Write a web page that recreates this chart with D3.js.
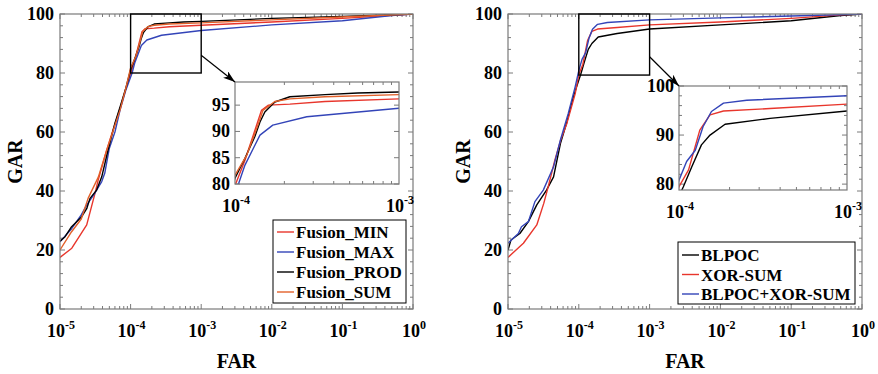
<!DOCTYPE html>
<html><head><meta charset="utf-8">
<script src="https://cdn.jsdelivr.net/npm/d3@7"></script>
<style>
html,body{margin:0;padding:0;background:#fff;}
svg{display:block;font-family:"Liberation Serif","Times New Roman",serif;font-weight:bold;}
</style></head>
<body><svg id="c" width="878" height="374"></svg>
<script>
// ---------- DATA ----------
const xTickExps = [-5, -4, -3, -2, -1, 0];
const yTicksMain = [0, 20, 40, 60, 80, 100];
const leftInsetYTicks = [80, 85, 90, 95];
const rightInsetYTicks = [80, 90, 100];
const insetXTickExps = [-4, -3];

// Left panel series
const minFar  = [1e-5,1.47e-5,2.39e-5,3.13e-5,3.5e-5,4.6e-5,5.7e-5,7.1e-5,8.5e-5,1.02e-4,1.15e-4,1.3e-4,1.45e-4,1.6e-4,2.16e-4,3.54e-4,1e-3,1e-2,1e-1,1];
const minGar  = [17.5,20.6,28.5,39.2,44,54,61,68,74.5,80.4,84.5,89.5,94,95,95.2,95.7,96.2,97.3,98.5,100];
const maxFar  = [1e-5,1.47e-5,2.0e-5,2.4e-5,3.1e-5,3.9e-5,4.3e-5,5.0e-5,6.0e-5,7.1e-5,8.5e-5,1.05e-4,1.15e-4,1.42e-4,1.7e-4,2.74e-4,1e-3,1e-2,1e-1,0.5,1];
const maxGar  = [22.8,27.3,31.9,35.3,39.2,43.2,46,54.5,60,67.5,74,80,83.6,89.3,91.2,92.8,94.4,96.3,97.7,99.5,100];
const prodFar = [1e-5,1.18e-5,1.46e-5,2.03e-5,2.4e-5,2.66e-5,3.3e-5,3.9e-5,4.8e-5,6.0e-5,7.2e-5,8.6e-5,1e-4,1.15e-4,1.32e-4,1.42e-4,1.52e-4,1.75e-4,2.16e-4,3.54e-4,5.6e-4,1e-3,1e-2,1e-1,1];
const prodGar = [23,24.5,27.9,31.3,34.1,37.5,40.3,44.8,53.9,63,69,75,81.1,84.9,89,91.8,93.7,95.6,96.6,97.0,97.3,97.5,98.5,99.2,100];
const sumFar  = [1e-5,1.46e-5,2.0e-5,2.5e-5,3.5e-5,4.6e-5,5.7e-5,7.1e-5,8.5e-5,1e-4,1.18e-4,1.38e-4,1.48e-4,1.75e-4,2.16e-4,3.54e-4,1e-3,1e-2,1e-1,1];
const sumGar  = [20,26.2,30.5,37.5,44.8,53.9,60.7,67.5,74.5,81.7,85.5,91.2,94,95.7,96.2,96.6,97.0,98,99,100];
const leftNames = ["Fusion_MIN","Fusion_MAX","Fusion_PROD","Fusion_SUM"];

// Right panel series
const blpocFar = [1e-5,1.1e-5,1.47e-5,1.94e-5,2.55e-5,3.5e-5,4.4e-5,5.5e-5,6.8e-5,8.4e-5,1.0e-4,1.06e-4,1.19e-4,1.36e-4,1.53e-4,1.88e-4,3.48e-4,1e-3,1e-2,1e-1,0.5,1];
const blpocGar = [20,23.4,25.6,29.6,35.3,40.3,44.8,56.1,63.5,72,77.6,79.4,83.5,88,90,92.2,93.4,94.9,96.3,97.7,99.5,100];
const xorFar   = [1e-5,1.65e-5,2.55e-5,3.2e-5,3.7e-5,4.6e-5,5.5e-5,6.8e-5,8.9e-5,1e-4,1.14e-4,1.33e-4,1.53e-4,1.84e-4,3.48e-4,1e-3,1e-2,1e-1,0.5,1];
const xorGar   = [17.5,22.3,28.5,35.8,41.5,50.5,57,63,73,79.5,82.9,91,94.1,94.9,95.4,96.3,97.3,98.5,99.7,100];
const bothFar  = [1e-5,1.4e-5,1.55e-5,1.94e-5,2.4e-5,3.15e-5,4.4e-5,5.5e-5,7.1e-5,8.9e-5,1e-4,1.11e-4,1.25e-4,1.39e-4,1.56e-4,1.84e-4,2.53e-4,1e-3,1e-2,1e-1,1];
const bothGar  = [22.3,25.6,27.9,29.6,36.4,40.3,48.2,57.3,66.3,75.4,80.8,84.6,86.9,91.7,94.8,96.5,97.1,98,98.7,99.3,100];
const rightNames = ["BLPOC","XOR-SUM","BLPOC+XOR-SUM"];

// ---------- STYLE ----------
const RED = "#e8362c", BLUE = "#3344b8", BLACK = "#000", ORANGE = "#e2602a";
const AXIS = "#7a7a7a";

const svg = d3.select("#c");
const defs = svg.append("defs");
defs.append("marker").attr("id","arr").attr("viewBox","0 0 12 8").attr("refX",12).attr("refY",4)
  .attr("markerWidth",12).attr("markerHeight",8).attr("markerUnits","userSpaceOnUse").attr("orient","auto")
  .append("path").attr("d","M0,0 L12,4 L0,8 L3,4 Z").attr("fill","#000");

function zip(f,g){return f.map((v,i)=>({x:v,y:g[i]}));}

function powLabel(sel, exp, size, supSize){
  sel.append("tspan").text("10").attr("font-size",size);
  sel.append("tspan").text(String(exp).replace("-","-")).attr("font-size",supSize).attr("dy",-size*0.42);
}

function drawPanel(cfg){
  const g = svg.append("g");
  const x = d3.scaleLog().domain([1e-5,1]).range([cfg.x0,cfg.x1]);
  const y = d3.scaleLinear().domain([0,100]).range([cfg.y1,cfg.y0]);
  const id = cfg.id;
  defs.append("clipPath").attr("id","cm"+id).append("rect")
    .attr("x",cfg.x0).attr("y",cfg.y0).attr("width",cfg.x1-cfg.x0).attr("height",cfg.y1-cfg.y0);

  // ticks inward, all sides
  const minorX = [];
  for(let e=-5;e<0;e++) for(let m=2;m<=9;m++) minorX.push(m*Math.pow(10,e));
  const tk = g.append("g").attr("stroke",AXIS).attr("stroke-width",1);
  minorX.forEach(v=>{
    const px = x(v);
    tk.append("line").attr("x1",px).attr("x2",px).attr("y1",cfg.y1).attr("y2",cfg.y1-3);
    tk.append("line").attr("x1",px).attr("x2",px).attr("y1",cfg.y0).attr("y2",cfg.y0+3);
  });
  xTickExps.forEach(e=>{
    const px = x(Math.pow(10,e));
    tk.append("line").attr("x1",px).attr("x2",px).attr("y1",cfg.y1).attr("y2",cfg.y1-5);
    tk.append("line").attr("x1",px).attr("x2",px).attr("y1",cfg.y0).attr("y2",cfg.y0+5);
  });
  d3.range(0,101,4).forEach(v=>{
    const py = y(v); const L = (v%20===0)?5:3;
    tk.append("line").attr("x1",cfg.x0).attr("x2",cfg.x0+L).attr("y1",py).attr("y2",py);
    tk.append("line").attr("x1",cfg.x1).attr("x2",cfg.x1-L).attr("y1",py).attr("y2",py);
  });

  // series
  const line = d3.line().x(d=>x(d.x)).y(d=>y(d.y));
  const sg = g.append("g").attr("clip-path","url(#cm"+id+")");
  cfg.series.forEach(s=>{
    sg.append("path").datum(zip(s.far,s.gar)).attr("d",line).attr("fill","none")
      .attr("stroke",s.color).attr("stroke-width",1.4).attr("stroke-linejoin","round");
  });

  // box
  g.append("rect").attr("x",cfg.x0).attr("y",cfg.y0).attr("width",cfg.x1-cfg.x0).attr("height",cfg.y1-cfg.y0)
    .attr("fill","none").attr("stroke",AXIS).attr("stroke-width",1.2);

  // tick labels
  yTicksMain.forEach(v=>{
    g.append("text").attr("x",cfg.x0-6).attr("y",y(v)+6).attr("text-anchor","end")
      .attr("font-size",18).text(v);
  });
  xTickExps.forEach(e=>{
    const t = g.append("text").attr("x",x(Math.pow(10,e))+1).attr("y",cfg.y1+28).attr("text-anchor","middle");
    powLabel(t,e,18,12);
  });
  g.append("text").attr("transform",`translate(${cfg.gx},${(cfg.y0+cfg.y1)/2}) rotate(-90)`)
    .attr("text-anchor","middle").attr("font-size",20).text("GAR");
  g.append("text").attr("x",(cfg.x0+cfg.x1)/2).attr("y",368).attr("text-anchor","middle")
    .attr("font-size",20).text("FAR");

  // zoom rectangle
  g.append("rect").attr("x",x(1e-4)).attr("y",y(100)).attr("width",x(1e-3)-x(1e-4))
    .attr("height",y(cfg.rectLow)-y(100)).attr("fill","none").attr("stroke","#000").attr("stroke-width",1.4);

  // inset
  const ix = d3.scaleLog().domain([1e-4,1e-3]).range([cfg.ix0,cfg.ix1]);
  const iy = d3.scaleLinear().domain(cfg.iyDomain).range([cfg.iy1,cfg.iy0]);
  defs.append("clipPath").attr("id","ci"+id).append("rect")
    .attr("x",cfg.ix0).attr("y",cfg.iy0).attr("width",cfg.ix1-cfg.ix0).attr("height",cfg.iy1-cfg.iy0);
  const ig = g.append("g");
  ig.append("rect").attr("x",cfg.ix0).attr("y",cfg.iy0).attr("width",cfg.ix1-cfg.ix0).attr("height",cfg.iy1-cfg.iy0)
    .attr("fill","#fff");
  const itk = ig.append("g").attr("stroke",AXIS).attr("stroke-width",1);
  for(let m=2;m<=9;m++){
    const px = ix(m*1e-4);
    itk.append("line").attr("x1",px).attr("x2",px).attr("y1",cfg.iy1).attr("y2",cfg.iy1-3);
    itk.append("line").attr("x1",px).attr("x2",px).attr("y1",cfg.iy0).attr("y2",cfg.iy0+3);
  }
  cfg.iyMinor.forEach(v=>{
    const py = iy(v);
    itk.append("line").attr("x1",cfg.ix0).attr("x2",cfg.ix0+3).attr("y1",py).attr("y2",py);
    itk.append("line").attr("x1",cfg.ix1).attr("x2",cfg.ix1-3).attr("y1",py).attr("y2",py);
  });
  cfg.iyTicks.forEach(v=>{
    const py = iy(v);
    itk.append("line").attr("x1",cfg.ix0).attr("x2",cfg.ix0+5).attr("y1",py).attr("y2",py);
    itk.append("line").attr("x1",cfg.ix1).attr("x2",cfg.ix1-5).attr("y1",py).attr("y2",py);
  });
  const iline = d3.line().x(d=>ix(d.x)).y(d=>iy(d.y));
  const isg = ig.append("g").attr("clip-path","url(#ci"+id+")");
  cfg.series.forEach(s=>{
    isg.append("path").datum(zip(s.far,s.gar)).attr("d",iline).attr("fill","none")
      .attr("stroke",s.color).attr("stroke-width",1.4).attr("stroke-linejoin","round");
  });
  ig.append("rect").attr("x",cfg.ix0).attr("y",cfg.iy0).attr("width",cfg.ix1-cfg.ix0).attr("height",cfg.iy1-cfg.iy0)
    .attr("fill","none").attr("stroke",AXIS).attr("stroke-width",1.2);
  cfg.iyTicks.forEach(v=>{
    ig.append("text").attr("x",cfg.ix0-5).attr("y",iy(v)+6).attr("text-anchor","end")
      .attr("font-size",18).text(v);
  });
  insetXTickExps.forEach(e=>{
    const t = ig.append("text").attr("x",ix(Math.pow(10,e))+1).attr("y",cfg.iy1+28).attr("text-anchor","middle");
    powLabel(t,e,18,12);
  });

  // arrow
  g.append("line").attr("x1",x(1e-3)).attr("y1",y(cfg.arrowFromY))
    .attr("x2",cfg.ix0).attr("y2",cfg.iy0).attr("stroke","#000").attr("stroke-width",1.2)
    .attr("marker-end","url(#arr)");

  // legend
  const lg = g.append("g");
  lg.append("rect").attr("x",cfg.lx0).attr("y",cfg.ly0).attr("width",cfg.lx1-cfg.lx0).attr("height",cfg.ly1-cfg.ly0)
    .attr("fill","#fff").attr("stroke","#000").attr("stroke-width",1);
  cfg.series.forEach((s,i)=>{
    const yy = cfg.ly0 + cfg.lPad + i*cfg.lStep;
    lg.append("line").attr("x1",cfg.lx0+4).attr("x2",cfg.lx0+21).attr("y1",yy).attr("y2",yy)
      .attr("stroke",s.color).attr("stroke-width",1.4);
    lg.append("text").attr("x",cfg.lx0+23).attr("y",yy+6).attr("font-size",cfg.lFont).text(s.name);
  });
}

drawPanel({
  id:"L", x0:60, x1:413, y0:14, y1:309, gx:22,
  rectLow:80, arrowFromY:86,
  ix0:235, ix1:399, iy0:82, iy1:184, iyDomain:[80,99.4], iyTicks:leftInsetYTicks, iyMinor:[],
  lx0:273, lx1:406, ly0:220, ly1:303, lPad:12, lStep:20, lFont:17,
  series:[
    {name:leftNames[0], far:minFar, gar:minGar, color:RED},
    {name:leftNames[1], far:maxFar, gar:maxGar, color:BLUE},
    {name:leftNames[2], far:prodFar, gar:prodGar, color:BLACK},
    {name:leftNames[3], far:sumFar, gar:sumGar, color:ORANGE}
  ].map((s,i)=>s)
});
drawPanel({
  id:"R", x0:508, x1:862, y0:14, y1:309, gx:470,
  rectLow:79.3, arrowFromY:85.5,
  ix0:679, ix1:847, iy0:86, iy1:190, iyDomain:[78.8,100], iyTicks:rightInsetYTicks, iyMinor:[82,84,86,88,92,94,96,98],
  lx0:678, lx1:855, ly0:242, ly1:304, lPad:13, lStep:19.5, lFont:17,
  series:[
    {name:rightNames[0], far:blpocFar, gar:blpocGar, color:BLACK},
    {name:rightNames[1], far:xorFar, gar:xorGar, color:RED},
    {name:rightNames[2], far:bothFar, gar:bothGar, color:BLUE}
  ]
});
</script></body></html>
